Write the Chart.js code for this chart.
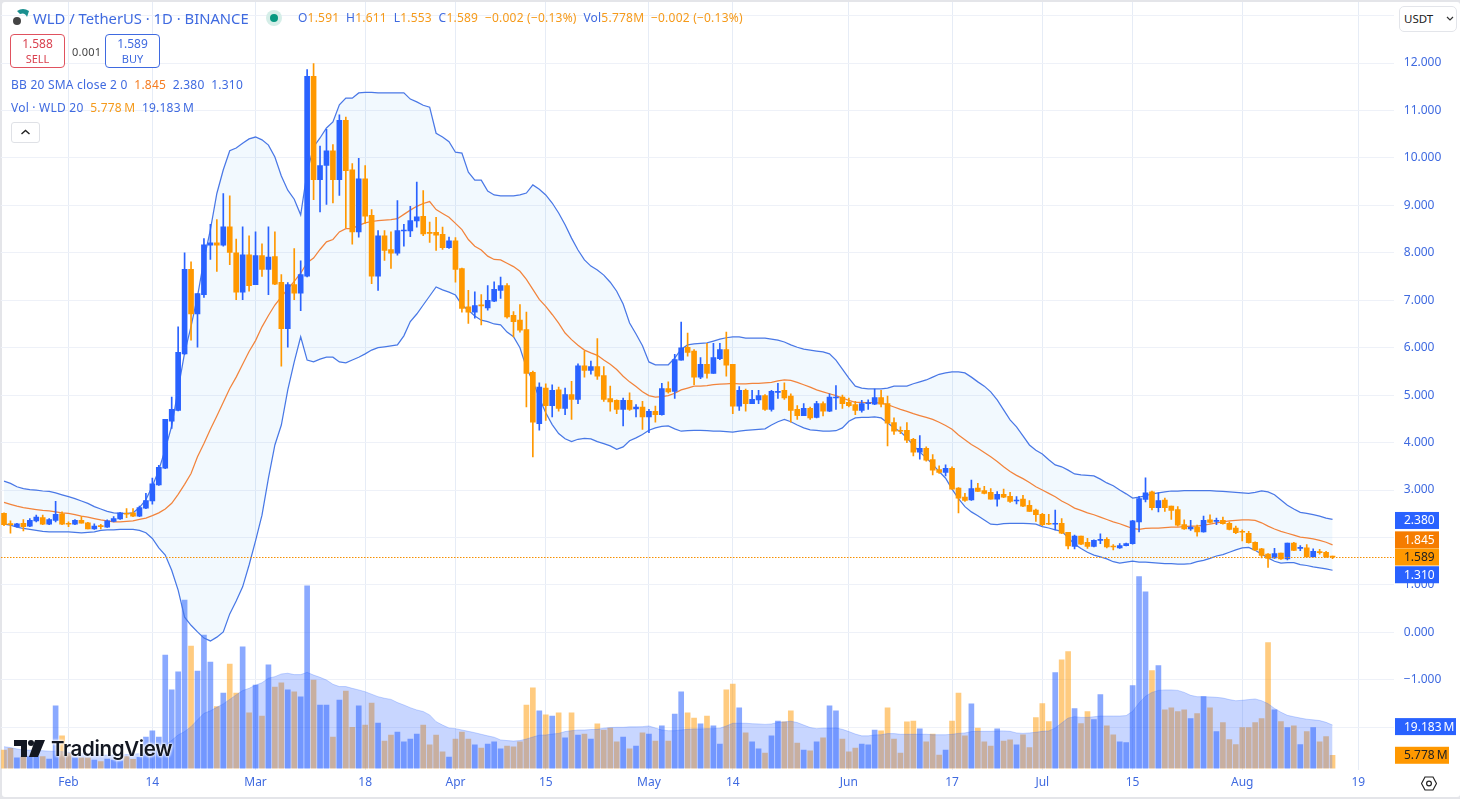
<!DOCTYPE html>
<html>
<head>
<meta charset="utf-8">
<title>WLD / TetherUS</title>
<script src="https://cdn.jsdelivr.net/npm/chart.js@4"></script>
<style>
html, body { margin: 0; padding: 0; background: #e4e5e9; overflow: hidden; font-family: "Noto Sans", sans-serif; }
#panel { position: absolute; left: 2px; top: 2px; width: 1458px; height: 795px; background: #fff; border-radius: 3px; }
#c { position: absolute; left: 0; top: 0; }
.t { position: absolute; white-space: nowrap; color: #3f6ae0; font-size: 12px; line-height: 16px; letter-spacing: 0.22px; }
.o { color: #f59a1a; }
.d { color: #f57c20; }
.box { position: absolute; top: 34px; width: 53px; height: 31px; border: 1px solid; border-radius: 4px; text-align: center; font-size: 12px; line-height: 15px; background: #fff; padding-top: 1px; box-sizing: content-box; }
.box div:last-child { font-size: 11px; }
</style>
</head>
<body>
<div id="panel"></div>
<canvas id="c" width="1460" height="799"></canvas>

<svg style="position:absolute;left:12px;top:8px" width="18" height="18" viewBox="0 0 18 18">
  <path d="M5 3 Q11 -1 17 3 L15 9 Q13 4 8 6 Z" fill="#1a8f8f"/>
  <circle cx="5" cy="13" r="4" fill="#444"/>
</svg>
<div class="t" style="left:33px;top:9px;font-size:14.8px;line-height:18px;letter-spacing:0">WLD / TetherUS · 1D · BINANCE</div>
<svg style="position:absolute;left:265px;top:9px" width="18" height="18">
  <circle cx="9" cy="9" r="8" fill="#d5eee8"/><circle cx="9" cy="9" r="4" fill="#089981"/>
</svg>
<div class="t" style="left:298px;top:10px">O<span class="o">1.591</span>&nbsp; H<span class="o">1.611</span>&nbsp; L<span class="o">1.553</span>&nbsp; C<span class="o">1.589</span>&nbsp; <span class="o">−0.002 (−0.13%)</span>&nbsp; Vol<span class="o">5.778M</span>&nbsp; <span class="o">−0.002 (−0.13%)</span></div>

<div class="box" style="left:10px;border-color:#e0525f;color:#d9414f"><div>1.588</div><div>SELL</div></div>
<div class="t" style="left:72px;top:44px;font-size:11px;color:#444">0.001</div>
<div class="box" style="left:105px;border-color:#3f6ae0;color:#3f6ae0"><div>1.589</div><div>BUY</div></div>

<div class="t" style="left:11px;top:77px">BB 20 SMA close 2 0&nbsp; <span class="d">1.845</span>&nbsp; 2.380&nbsp; 1.310</div>
<div class="t" style="left:11px;top:100px">Vol · WLD 20&nbsp; <span class="o">5.778&#8201;M</span>&nbsp; 19.183&#8201;M</div>
<div style="position:absolute;left:11px;top:122px;width:27px;height:19px;border:1px solid #dfe1e6;border-radius:3px;background:#fff">
  <svg width="27" height="19"><path d="M9.5 11 L13.5 7.5 L17.5 11" fill="none" stroke="#222" stroke-width="1.4"/></svg>
</div>

<div style="position:absolute;left:1399px;top:6px;width:56px;height:24px;border:1px solid #e3e5ea;border-radius:5px;background:#fff">
  <span style="position:absolute;left:4px;top:4px;font-size:11.5px;line-height:16px;color:#222">USDT</span>
  <svg style="position:absolute;left:46px;top:9px" width="8" height="6"><path d="M1 1 L4 4 L7 1" fill="none" stroke="#333" stroke-width="1.2"/></svg>
</div>
<svg style="position:absolute;left:1421px;top:775px" width="16" height="17" viewBox="0 0 16 17">
  <path d="M4 2 H12 L15.5 8.5 L12 15 H4 L0.5 8.5 Z" fill="none" stroke="#222" stroke-width="1.2"/>
  <circle cx="8" cy="8.5" r="2.4" fill="none" stroke="#222" stroke-width="1.2"/>
</svg>

<svg style="position:absolute;left:14px;top:740px" width="31" height="17" viewBox="0 0 31 17">
  <path d="M0 0 H13 V17 H7 V6 H0 Z M21 0 H31 L24 17 H15 Z" fill="#131722"/><circle cx="17" cy="3" r="3" fill="#131722"/>
</svg>
<div class="t" style="left:51px;top:736px;font-family:Inter,sans-serif;font-weight:600;font-size:20.5px;line-height:26px;color:#131722;letter-spacing:-0.35px;text-shadow:0 0 3px #fff,0 0 3px #fff,0 0 3px #fff">TradingView</div>

<script>
const days = [
  '01-22','01-23','01-24','01-25','01-26','01-27','01-28','01-29','01-30','01-31',
  '02-01','02-02','02-03','02-04','02-05','02-06','02-07','02-08','02-09','02-10','02-11','02-12','02-13','02-14','02-15',
  '02-16','02-17','02-18','02-19','02-20','02-21','02-22','02-23','02-24','02-25','02-26','02-27','02-28','02-29',
  '03-01','03-02','03-03','03-04','03-05','03-06','03-07','03-08','03-09','03-10','03-11','03-12','03-13','03-14','03-15','03-16',
  '03-17','03-18','03-19','03-20','03-21','03-22','03-23','03-24','03-25','03-26','03-27','03-28','03-29','03-30','03-31',
  '04-01','04-02','04-03','04-04','04-05','04-06','04-07','04-08','04-09','04-10','04-11','04-12','04-13','04-14','04-15',
  '04-16','04-17','04-18','04-19','04-20','04-21','04-22','04-23','04-24','04-25','04-26','04-27','04-28','04-29','04-30',
  '05-01','05-02','05-03','05-04','05-05','05-06','05-07','05-08','05-09','05-10','05-11','05-12','05-13','05-14','05-15',
  '05-16','05-17','05-18','05-19','05-20','05-21','05-22','05-23','05-24','05-25','05-26','05-27','05-28','05-29','05-30','05-31',
  '06-01','06-02','06-03','06-04','06-05','06-06','06-07','06-08','06-09','06-10','06-11','06-12','06-13','06-14','06-15',
  '06-16','06-17','06-18','06-19','06-20','06-21','06-22','06-23','06-24','06-25','06-26','06-27','06-28','06-29','06-30',
  '07-01','07-02','07-03','07-04','07-05','07-06','07-07','07-08','07-09','07-10','07-11','07-12','07-13','07-14','07-15',
  '07-16','07-17','07-18','07-19','07-20','07-21','07-22','07-23','07-24','07-25','07-26','07-27','07-28','07-29','07-30','07-31',
  '08-01','08-02','08-03','08-04','08-05','08-06','08-07','08-08','08-09','08-10','08-11','08-12','08-13','08-14','08-15',
  '08-16','08-17','08-18','08-19','08-20','08-21','08-22','08-23','08-24'
];
const tickDays = ['02-01','02-14','03-01','03-18','04-01','04-15','05-01','05-14','06-01','06-17','07-01','07-15','08-01','08-19'];
const tickNames = ['Feb','14','Mar','18','Apr','15','May','14','Jun','17','Jul','15','Aug','19'];
const priceTicks = [-2,-1,0,1,2,3,4,5,6,7,8,9,10,11,12,13];
const hiddenPriceTicks = [13,2,-2];

const opens = [
  2.51,2.29,2.23,2.30,2.24,2.35,2.42,2.28,2.36,2.50,
  2.30,2.28,2.36,2.31,2.18,2.25,2.22,2.34,2.39,2.51,
  2.52,2.45,2.62,2.77,3.11,3.46,4.45,4.68,5.87,7.65,
  6.71,7.12,8.16,8.21,8.16,8.55,8.00,7.17,7.96,7.33,
  7.94,7.65,7.92,7.38,6.40,7.33,7.15,7.51,11.72,9.54,
  9.84,10.15,9.54,10.79,9.75,8.44,9.56,8.79,7.51,8.36,
  8.07,7.99,8.46,8.46,8.67,8.77,8.43,8.43,8.39,8.11,
  8.25,7.67,6.86,6.75,6.90,6.84,6.98,7.21,7.31,6.68,
  6.58,6.38,5.48,4.40,5.15,4.78,5.11,4.72,5.01,4.91,
  5.62,5.52,5.60,5.41,4.93,4.89,4.70,4.89,4.71,4.75,
  4.54,4.66,4.59,5.14,5.08,5.74,6.01,5.93,5.38,5.65,
  5.46,5.77,5.96,5.65,4.77,5.10,4.82,4.90,4.99,4.70,
  5.06,5.10,4.98,4.70,4.57,4.72,4.53,4.82,4.66,4.94,
  4.96,4.85,4.80,4.68,4.82,4.81,4.95,4.82,4.42,4.26,
  4.26,4.07,3.80,3.88,3.64,3.43,3.37,3.46,3.04,2.85,
  2.79,3.04,2.99,2.95,2.81,2.91,2.87,2.77,2.81,2.68,
  2.58,2.49,2.30,2.28,2.30,2.11,1.81,2.03,1.90,1.81,
  1.94,1.96,1.82,1.78,1.83,1.87,2.33,2.80,2.96,2.63,
  2.79,2.66,2.59,2.27,2.18,2.22,2.12,2.37,2.34,2.36,
  2.30,2.20,2.13,2.09,1.90,1.76,1.65,1.57,1.67,1.55,
  1.88,1.77,1.78,1.59,1.70,1.69,1.591
];
const highs = [
  2.52,2.35,2.30,2.38,2.40,2.47,2.47,2.40,2.76,2.54,
  2.33,2.38,2.44,2.32,2.29,2.28,2.37,2.44,2.53,2.61,
  2.61,2.66,2.93,3.25,3.52,4.49,4.96,6.44,8.00,7.81,
  7.14,8.30,8.60,8.70,9.25,9.20,8.29,8.55,8.36,8.44,
  8.19,8.55,8.44,7.54,7.37,8.09,7.83,11.86,11.99,10.25,
  10.60,10.28,10.91,10.86,9.88,9.99,9.84,8.91,8.47,8.47,
  8.44,9.10,8.60,8.98,9.49,9.31,8.65,8.75,8.54,8.33,
  8.32,7.68,7.21,7.18,7.12,7.31,7.39,7.49,7.35,6.76,
  6.91,6.75,5.51,5.26,5.24,5.22,5.17,5.15,5.29,5.66,
  5.93,5.72,6.19,5.60,5.19,4.90,4.94,5.05,4.80,4.87,
  4.70,4.77,5.25,5.28,5.86,6.54,6.31,5.96,5.79,6.09,
  6.09,6.09,6.33,5.65,5.18,5.13,5.10,5.10,5.01,5.10,
  5.25,5.26,5.03,4.78,4.82,4.75,4.87,4.86,5.03,5.20,
  5.00,4.94,4.87,4.89,4.90,5.13,5.10,4.98,4.52,4.33,
  4.42,4.09,4.15,3.91,3.75,3.51,3.53,3.49,3.05,2.93,
  3.21,3.14,3.08,3.03,2.97,3.02,2.95,2.86,2.89,2.78,
  2.60,2.51,2.49,2.58,2.40,2.11,2.05,2.03,1.98,1.95,
  2.08,2.00,1.85,1.87,1.88,2.36,2.87,3.26,2.98,2.94,
  2.83,2.66,2.65,2.37,2.36,2.26,2.45,2.48,2.41,2.43,
  2.33,2.24,2.16,2.13,1.91,1.77,1.66,1.77,1.67,1.88,
  1.90,1.83,1.85,1.76,1.75,1.71,1.611
];
const lows = [
  2.25,2.09,2.22,2.14,2.23,2.33,2.27,2.27,2.33,2.27,
  2.23,2.27,2.30,2.18,2.17,2.18,2.21,2.33,2.38,2.42,
  2.44,2.44,2.61,2.70,3.10,3.45,4.30,4.67,5.86,6.16,
  6.01,7.06,7.86,7.61,8.14,7.75,7.01,7.01,7.19,7.33,
  7.50,7.12,7.33,5.61,6.01,7.01,6.78,7.49,9.12,8.86,
  9.02,9.05,9.21,8.53,8.18,8.33,8.62,7.35,7.21,7.84,
  7.67,7.95,8.14,8.34,8.54,8.36,8.22,8.05,8.07,8.09,
  7.38,6.75,6.51,6.62,6.48,6.79,6.97,7.04,6.62,6.23,
  6.33,4.75,3.70,4.26,4.47,4.54,4.66,4.59,4.49,4.82,
  5.38,5.44,5.33,4.87,4.66,4.61,4.35,4.68,4.54,4.28,
  4.21,4.43,4.58,5.04,4.93,5.74,5.82,5.22,5.35,5.36,
  5.46,5.75,5.40,4.61,4.68,4.66,4.82,4.82,4.68,4.66,
  4.93,4.91,4.43,4.49,4.57,4.49,4.52,4.56,4.65,4.70,
  4.72,4.75,4.59,4.64,4.70,4.80,4.75,3.93,4.17,4.19,
  4.00,3.72,3.65,3.61,3.32,3.35,3.30,3.02,2.52,2.76,
  2.78,2.97,2.92,2.81,2.66,2.84,2.74,2.71,2.65,2.55,
  2.34,2.25,2.27,2.16,2.08,1.76,1.76,1.85,1.77,1.80,
  1.87,1.78,1.74,1.77,1.82,1.86,2.12,2.75,2.58,2.54,
  2.55,2.38,2.24,2.17,2.15,2.03,2.11,2.30,2.27,2.28,
  2.16,2.08,1.93,1.88,1.72,1.57,1.37,1.56,1.54,1.53,
  1.72,1.72,1.59,1.59,1.65,1.58,1.553
];
const closes = [
  2.27,2.27,2.29,2.23,2.36,2.43,2.28,2.38,2.49,2.28,
  2.28,2.36,2.30,2.18,2.24,2.23,2.35,2.40,2.52,2.49,
  2.45,2.63,2.78,3.13,3.48,4.49,4.70,5.90,7.65,6.71,
  7.14,8.17,8.21,8.16,8.55,8.01,7.17,7.96,7.31,7.94,
  7.65,7.91,7.34,6.40,7.33,7.15,7.54,11.72,9.54,9.84,
  10.15,9.54,10.79,9.73,8.44,9.56,8.77,7.51,8.36,8.05,
  7.99,8.47,8.48,8.68,8.76,8.40,8.41,8.37,8.11,8.25,
  7.65,6.83,6.75,6.89,6.88,7.00,7.23,7.31,6.65,6.55,
  6.37,5.46,4.43,5.17,4.78,5.10,4.72,5.01,4.91,5.62,
  5.52,5.60,5.40,4.91,4.86,4.70,4.89,4.70,4.75,4.54,
  4.66,4.59,5.14,5.07,5.75,6.00,5.90,5.38,5.65,5.46,
  5.79,5.96,5.63,4.77,5.10,4.82,4.91,4.99,4.70,5.08,
  5.08,4.94,4.68,4.57,4.72,4.52,4.82,4.66,4.96,4.96,
  4.82,4.78,4.68,4.82,4.83,4.95,4.81,4.41,4.24,4.24,
  4.05,3.80,3.88,3.63,3.42,3.37,3.46,3.02,2.83,2.78,
  3.03,2.97,2.93,2.81,2.91,2.85,2.76,2.79,2.66,2.55,
  2.48,2.27,2.28,2.30,2.09,1.82,2.03,1.86,1.81,1.94,
  1.96,1.80,1.80,1.83,1.87,2.35,2.82,2.94,2.63,2.78,
  2.63,2.57,2.26,2.18,2.22,2.12,2.36,2.32,2.36,2.29,
  2.17,2.10,2.11,1.89,1.74,1.62,1.56,1.66,1.55,1.88,
  1.73,1.78,1.59,1.71,1.68,1.59,1.589
];
// volume in millions
const volumes = [
  8.1,8.9,4.6,5.2,5.2,5.2,5.2,4.1,27.7,14.4,
  6.7,4.7,4.7,4.7,3.7,3.0,4.1,3.7,3.3,5.2,
  4.0,4.9,13.9,16.6,13.9,50.3,34.8,42.8,74.7,54.3,
  43.2,59.2,47.2,27.4,33.4,46.3,33.4,53.9,24.6,37.0,
  23.2,45.9,36.1,37.9,34.8,33.9,31.7,81.0,39.2,28.1,
  28.1,13.9,30.3,34.3,18.2,27.7,19.2,29.0,20.1,12.1,
  14.8,16.1,11.7,13.0,15.2,19.2,10.4,14.8,7.3,5.0,
  13.0,16.1,13.0,10.4,9.0,10.8,11.7,8.6,9.9,9.5,
  11.7,28.1,35.7,25.5,23.7,23.2,24.6,13.5,24.6,14.8,
  15.2,13.0,19.7,17.0,17.9,11.7,13.9,8.6,9.9,15.7,
  15.2,12.1,18.8,12.1,24.1,33.9,24.6,22.3,19.7,23.2,
  18.8,10.8,34.8,37.4,26.8,15.7,11.7,8.6,6.8,14.4,
  21.0,20.6,25.5,11.2,8.1,7.7,11.7,13.5,27.7,25.5,
  13.0,7.3,9.0,10.8,10.4,17.0,16.6,26.8,13.0,6.8,
  20.6,21.0,17.5,11.7,15.2,5.9,8.1,21.0,33.4,14.4,
  28.6,17.9,11.7,9.9,17.5,12.1,12.6,10.4,14.9,9.2,
  22.5,28.7,20.7,42.5,48.2,51.8,26.5,19.8,25.2,21.6,
  32.7,18.9,14.9,11.8,11.4,36.7,85.1,78.4,43.4,45.6,
  26.0,26.9,25.2,26.0,22.1,24.3,31.8,26.9,16.3,20.3,
  12.7,10.5,18.1,18.1,20.3,22.1,55.8,26.0,20.7,18.1,
  18.9,10.5,16.3,18.1,11.8,14.1,5.778
];
const volumeMa = [
  9.6,9.2,8.6,8.1,8.0,7.9,7.8,7.6,7.5,7.4,
  7.1,6.9,6.6,6.3,6.0,5.9,5.9,5.9,5.9,6.1,
  6.3,6.5,7.0,7.5,8.2,10.3,12.4,14.8,16.3,18.5,
  21.5,24.4,25.5,27.1,28.6,30.6,32.6,34.5,35.5,36.9,
  38.0,40.0,40.7,41.9,42.2,41.6,41.6,42.6,41.4,40.4,
  39.2,37.3,36.3,36.3,35.5,34.8,34.0,32.9,31.8,31.1,
  30.6,29.2,28.1,26.9,25.9,25.2,23.7,20.7,19.2,17.9,
  17.6,17.0,16.4,15.8,15.1,14.4,13.8,12.6,12.3,12.1,
  12.3,13.0,13.9,14.7,14.8,15.2,15.5,16.3,16.7,17.0,
  17.0,17.2,17.3,17.8,18.1,18.2,18.2,18.4,18.4,18.5,
  18.8,17.9,17.0,16.7,16.7,17.0,17.3,17.5,17.5,17.6,
  17.6,17.8,18.8,20.0,20.0,20.0,19.8,19.7,19.5,19.7,
  20.4,20.6,20.9,20.3,19.2,18.1,17.6,17.8,17.8,17.9,
  17.3,16.3,15.2,14.4,14.4,14.8,14.9,15.4,15.4,15.1,
  15.1,15.1,15.1,15.1,14.9,14.9,14.9,15.1,15.5,15.7,
  16.3,16.4,16.4,16.4,16.6,16.6,16.4,15.7,15.5,15.7,
  16.0,16.4,16.6,17.9,20.1,22.3,22.9,22.6,22.6,22.9,
  23.2,23.2,23.2,23.2,23.4,25.3,29.0,32.0,33.7,34.6,
  34.8,34.8,34.6,33.7,32.4,31.8,31.8,31.7,31.5,31.2,
  30.5,30.0,30.2,30.5,30.8,30.0,28.7,26.6,24.9,23.5,
  22.9,22.3,21.8,21.5,21.2,20.4,19.183
];
const bbUpper = [
  3.19,3.14,3.07,3.03,3.01,3.00,2.98,2.97,2.94,2.90,
  2.86,2.82,2.77,2.72,2.65,2.60,2.55,2.52,2.51,2.51,
  2.52,2.63,2.80,3.08,3.42,3.86,4.35,5.12,5.89,6.45,
  7.08,7.85,8.49,9.25,9.75,10.15,10.21,10.31,10.40,10.44,
  10.38,10.27,10.02,9.62,9.32,9.13,8.80,9.70,10.23,10.42,
  10.63,10.76,11.12,11.26,11.26,11.37,11.38,11.38,11.37,11.37,
  11.37,11.37,11.37,11.24,11.18,11.11,11.07,10.52,10.44,10.34,
  10.12,10.10,9.70,9.53,9.53,9.30,9.22,9.20,9.20,9.20,
  9.22,9.26,9.43,9.34,9.22,9.05,8.84,8.59,8.31,8.06,
  7.85,7.72,7.64,7.53,7.38,7.19,6.92,6.52,6.29,6.04,
  5.70,5.64,5.64,5.64,5.78,5.97,6.06,6.08,6.09,6.10,
  6.14,6.18,6.21,6.23,6.23,6.20,6.20,6.20,6.20,6.18,
  6.16,6.12,6.06,6.01,5.97,5.95,5.93,5.91,5.87,5.74,
  5.55,5.36,5.19,5.15,5.13,5.13,5.13,5.15,5.19,5.19,
  5.19,5.24,5.28,5.32,5.38,5.44,5.47,5.49,5.49,5.47,
  5.38,5.28,5.19,5.07,4.90,4.69,4.48,4.33,4.14,3.95,
  3.84,3.76,3.64,3.53,3.49,3.42,3.34,3.32,3.31,3.30,
  3.23,3.15,3.09,3.00,2.92,2.83,2.85,2.88,2.92,2.94,
  2.96,2.98,2.98,2.99,2.99,2.99,2.99,2.99,2.98,2.97,
  2.96,2.95,2.94,2.93,2.95,2.98,2.96,2.90,2.79,2.68,
  2.60,2.53,2.51,2.48,2.45,2.41,2.38
];
const bbBasis = [
  2.74,2.70,2.66,2.63,2.61,2.59,2.57,2.56,2.54,2.52,
  2.51,2.48,2.45,2.43,2.40,2.37,2.35,2.33,2.33,2.34,
  2.35,2.38,2.41,2.46,2.52,2.60,2.72,2.91,3.12,3.35,
  3.70,3.98,4.28,4.56,4.85,5.14,5.38,5.65,5.92,6.15,
  6.44,6.68,6.90,7.07,7.24,7.40,7.57,7.79,7.89,8.07,
  8.23,8.28,8.44,8.51,8.51,8.58,8.63,8.66,8.68,8.69,
  8.70,8.72,8.81,8.90,8.98,9.04,9.08,8.91,8.83,8.75,
  8.62,8.49,8.28,8.14,8.06,7.93,7.86,7.85,7.78,7.71,
  7.61,7.44,7.23,7.02,6.87,6.70,6.52,6.31,6.17,6.05,
  5.95,5.89,5.84,5.74,5.65,5.54,5.40,5.28,5.18,5.07,
  4.99,4.96,4.97,4.99,5.04,5.11,5.15,5.19,5.19,5.20,
  5.22,5.23,5.24,5.25,5.24,5.24,5.25,5.25,5.26,5.27,
  5.30,5.32,5.31,5.27,5.22,5.17,5.11,5.07,5.03,4.99,
  4.94,4.89,4.85,4.85,4.84,4.84,4.83,4.80,4.75,4.70,
  4.66,4.61,4.57,4.53,4.49,4.43,4.36,4.28,4.16,4.06,
  3.96,3.88,3.79,3.70,3.60,3.49,3.39,3.31,3.24,3.16,
  3.07,3.00,2.93,2.86,2.77,2.70,2.62,2.57,2.52,2.48,
  2.43,2.38,2.33,2.29,2.24,2.19,2.17,2.19,2.20,2.20,
  2.21,2.22,2.22,2.23,2.24,2.24,2.26,2.28,2.31,2.33,
  2.35,2.36,2.37,2.37,2.36,2.31,2.24,2.18,2.13,2.09,
  2.05,2.01,1.99,1.97,1.94,1.90,1.845
];
const bbLower = [
  2.28,2.26,2.22,2.19,2.17,2.15,2.13,2.12,2.12,2.12,
  2.12,2.11,2.10,2.11,2.12,2.15,2.16,2.16,2.17,2.17,
  2.17,2.15,2.10,1.98,1.78,1.63,1.31,0.89,0.32,0.15,
  0.01,-0.12,-0.18,-0.10,0.01,0.39,0.66,0.96,1.42,1.93,
  2.47,3.25,3.95,4.37,5.11,5.70,6.23,5.74,5.70,5.76,
  5.80,5.80,5.70,5.68,5.74,5.80,5.87,5.95,6.00,6.02,
  6.04,6.06,6.25,6.55,6.71,6.90,7.09,7.28,7.22,7.17,
  7.11,6.90,6.79,6.67,6.58,6.55,6.50,6.48,6.33,6.23,
  6.00,5.58,5.29,4.94,4.63,4.38,4.19,4.08,4.02,4.07,
  4.09,4.08,4.02,3.98,3.93,3.86,3.91,4.04,4.10,4.17,
  4.26,4.31,4.34,4.35,4.29,4.24,4.25,4.26,4.26,4.25,
  4.24,4.24,4.23,4.22,4.24,4.26,4.27,4.28,4.29,4.37,
  4.44,4.49,4.44,4.37,4.31,4.27,4.26,4.24,4.24,4.25,
  4.31,4.45,4.52,4.53,4.53,4.54,4.52,4.42,4.31,4.23,
  4.10,3.94,3.80,3.68,3.54,3.39,3.25,3.02,2.82,2.65,
  2.54,2.46,2.37,2.28,2.27,2.29,2.30,2.30,2.30,2.29,
  2.28,2.23,2.20,2.16,2.13,2.00,1.86,1.77,1.69,1.63,
  1.59,1.55,1.49,1.46,1.48,1.50,1.48,1.48,1.47,1.46,
  1.45,1.45,1.44,1.44,1.45,1.49,1.52,1.56,1.61,1.64,
  1.69,1.74,1.78,1.79,1.73,1.65,1.57,1.50,1.46,1.47,
  1.47,1.43,1.41,1.38,1.36,1.34,1.31
];
const lastPrice = 1.589;

const BLUE = '#2962ff', ORANGE = '#ff9800';
const isUp = closes.map((c, i) => c >= opens[i]);
const candleColors = isUp.map(u => u ? BLUE : ORANGE);
const volumeColors = isUp.map(u => u ? 'rgba(41,98,255,0.55)' : 'rgba(255,152,0,0.5)');

// value tags on the right axis, nudge is how far the tag is pushed off its value
const tags = [
  {scale: 'y', value: 2.380, text: '2.380', bg: '#2962ff', fg: '#fff', w: 44, nudge: 1},
  {scale: 'y', value: 1.845, text: '1.845', bg: '#f57c00', fg: '#fff', w: 44, nudge: -5},
  {scale: 'y', value: 1.589, text: '1.589', bg: '#ff9800', fg: '#222', w: 44, nudge: 0},
  {scale: 'y', value: 1.310, text: '1.310', bg: '#2962ff', fg: '#fff', w: 44, nudge: 4.5},
  {scale: 'vol', value: 19.183, text: '19.183\u2009M', bg: '#2962ff', fg: '#fff', w: 61, nudge: 1.5},
  {scale: 'vol', value: 5.778, text: '5.778\u2009M', bg: '#ff9800', fg: '#222', w: 54, nudge: 0}
];

const lastPricePlugin = {
  id: 'lastPrice',
  afterDatasetsDraw(chart) {
    const {ctx, chartArea} = chart;
    const y = chart.scales.y.getPixelForValue(lastPrice);
    ctx.save();
    ctx.strokeStyle = '#f78f00';
    ctx.lineWidth = 1;
    ctx.setLineDash([1.5, 1.5]);
    ctx.beginPath();
    ctx.moveTo(Math.round(chartArea.left), Math.round(y) + 0.5);
    ctx.lineTo(Math.round(chartArea.right), Math.round(y) + 0.5);
    ctx.stroke();
    ctx.restore();
  },
  afterDraw(chart) {
    const {ctx} = chart;
    ctx.save();
    ctx.font = '12px "Noto Sans"';
    ctx.textBaseline = 'middle';
    for (const tag of tags) {
      const y = chart.scales[tag.scale].getPixelForValue(tag.value) + tag.nudge;
      ctx.fillStyle = tag.bg;
      ctx.fillRect(1395, y - 8.5, tag.w, 17);
      ctx.fillStyle = tag.fg;
      ctx.fillText(tag.text, 1404, y + 0.5);
    }
    ctx.restore();
  }
};

new Chart(document.getElementById('c'), {
  type: 'bar',
  plugins: [lastPricePlugin],
  data: {
    labels: days,
    datasets: [
      {
        label: 'Volume',
        data: volumes,
        yAxisID: 'vol',
        grouped: false,
        barThickness: 5,
        backgroundColor: volumeColors,
        order: 6
      },
      {
        type: 'line',
        label: 'Vol MA',
        data: volumeMa,
        yAxisID: 'vol',
        borderColor: 'rgba(41,98,255,0.25)',
        borderWidth: 1,
        backgroundColor: 'rgba(41,98,255,0.26)',
        fill: 'origin',
        pointRadius: 0,
        order: 5
      },
      {
        type: 'line',
        label: 'BB upper',
        data: bbUpper,
        yAxisID: 'y',
        borderColor: '#4a78e6',
        borderWidth: 1.25,
        backgroundColor: 'rgba(33,150,243,0.06)',
        fill: 3,
        pointRadius: 0,
        order: 4
      },
      {
        type: 'line',
        label: 'BB lower',
        data: bbLower,
        yAxisID: 'y',
        borderColor: '#4a78e6',
        borderWidth: 1.25,
        pointRadius: 0,
        order: 4
      },
      {
        type: 'line',
        label: 'BB basis',
        data: bbBasis,
        yAxisID: 'y',
        borderColor: '#f2843c',
        borderWidth: 1.25,
        pointRadius: 0,
        order: 3
      },
      {
        label: 'Wick',
        data: lows.map((l, i) => [l, highs[i]]),
        yAxisID: 'y',
        grouped: false,
        barThickness: 1,
        backgroundColor: candleColors,
        order: 2
      },
      {
        label: 'Body',
        data: opens.map((o, i) => [Math.min(o, closes[i]), Math.max(o, closes[i])]),
        yAxisID: 'y',
        grouped: false,
        barThickness: 5,
        minBarLength: 1,
        backgroundColor: candleColors,
        order: 1
      }
    ]
  },
  options: {
    responsive: false,
    animation: false,
    events: [],
    layout: {autoPadding: false, padding: {left: 0.8, top: 2, right: 0, bottom: 0}},
    plugins: {legend: {display: false}, tooltip: {enabled: false}},
    scales: {
      x: {
        type: 'category',
        offset: true,
        grid: {offset: false, color: '#e6ecf6', drawTicks: false},
        border: {display: false},
        afterBuildTicks: scale => { scale.ticks = tickDays.map(d => ({value: days.indexOf(d)})); },
        afterFit: scale => { scale.height = 29; },
        ticks: {
          autoSkip: false,
          maxRotation: 0,
          padding: 5,
          color: '#3f6ae0',
          font: {family: '"Noto Sans"', size: 12},
          callback: (value, i) => tickNames[i]
        }
      },
      y: {
        position: 'right',
        min: -2.9,
        max: 13.286,
        grid: {color: '#eef1f8', drawTicks: false},
        border: {display: false},
        afterBuildTicks: scale => { scale.ticks = priceTicks.map(v => ({value: v})); },
        afterFit: scale => {
          // the tick padding would otherwise push the plot area down from the top
          scale.width = 66.2;
          scale.paddingTop = 0;
          scale.paddingBottom = 0;
        },
        ticks: {
          autoSkip: false,
          padding: 10,
          color: '#3f6ae0',
          font: {family: '"Noto Sans"', size: 12},
          callback: value => hiddenPriceTicks.includes(value) ? '' : value.toFixed(3).replace('-', '−')
        }
      },
      vol: {
        display: false,
        min: -0.76,
        max: 340.3,
        grid: {display: false}
      }
    }
  }
});
</script>
</body>
</html>
